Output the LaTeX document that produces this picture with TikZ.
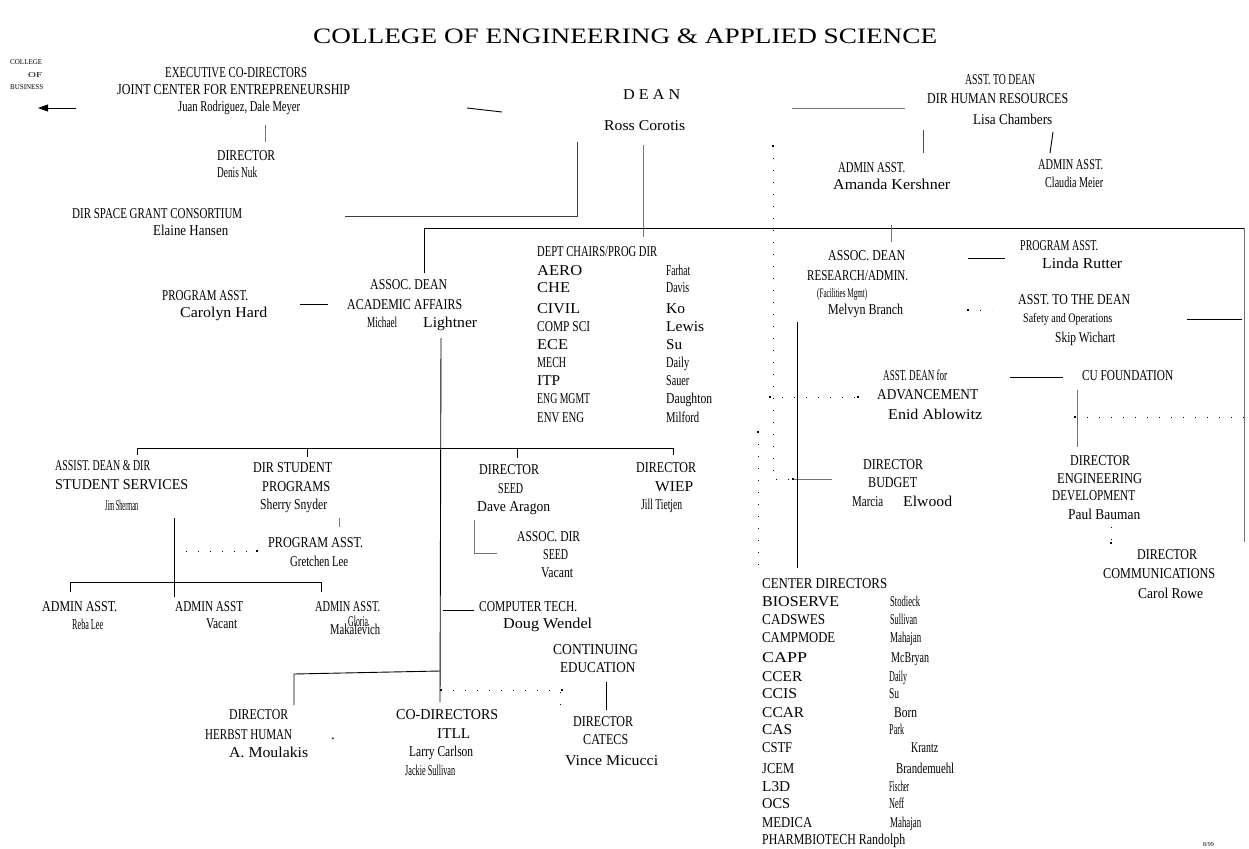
\documentclass[tikz,border=0pt]{standalone}
\usepackage{fontspec}
\setmainfont{Liberation Serif}
\usepackage{graphicx}
\usetikzlibrary{arrows.meta}
\newcommand{\sqz}[2]{\resizebox{#1pt}{\height}{#2}}
\begin{document}
\begin{tikzpicture}[x=1pt,y=-1pt,
 tx/.style={anchor=base west,inner sep=0pt,font=\fontsize{15}{17}\selectfont},
 sm/.style={tx,font=\fontsize{13}{15}\selectfont},
 tin/.style={tx,font=\fontsize{7.5}{8}\selectfont},
 ttl/.style={tx,font=\fontsize{22}{24}\selectfont},
 ln/.style={line width=0.9pt},
 gln/.style={line width=1pt,draw=black!55},
 dln/.style={line width=1pt,dash pattern=on 1.4pt off 10.6pt}]
\useasboundingbox[fill=white] (0,0) rectangle (1249,848);

% ---------- title ----------
\node[ttl] (title) at (313,44) {\sqz{624}{COLLEGE OF ENGINEERING \& APPLIED SCIENCE}};

% ---------- top left ----------
\node[tin] (cob1) at (10,65) {\sqz{32}{COLLEGE}};
\node[tin] (cob2) at (28,78) {\sqz{14}{OF}};
\node[tin] (cob3) at (10,90) {\sqz{33}{BUSINESS}};
\node[tx] (exec1) at (165,78) {\sqz{142}{EXECUTIVE CO-DIRECTORS}};
\node[tx] (exec2) at (117,95) {\sqz{233}{JOINT CENTER FOR ENTREPRENEURSHIP}};
\node[tx] (exec3) at (178,111) {\sqz{122}{Juan Rodriguez, Dale Meyer}};
\node[tx] (dir1) at (217,160) {\sqz{58}{DIRECTOR}};
\node[tx] (dir2) at (217,177) {\sqz{40}{Denis Nuk}};
\node[tx] (sp1) at (72,218) {\sqz{170}{DIR SPACE GRANT CONSORTIUM}};
\node[tx] (sp2) at (153,235) {\sqz{75}{Elaine Hansen}};

% ---------- dean ----------
\node[tx] (dean1) at (623,100) {\sqz{57}{D E A N}};
\node[tx] (dean2) at (604,131) {\sqz{81}{Ross Corotis}};

% ---------- human resources ----------
\node[tx] (hr1) at (965,85) {\sqz{70}{ASST. TO DEAN}};
\node[tx] (hr2) at (927,103) {\sqz{141}{DIR HUMAN RESOURCES}};
\node[tx] (hr3) at (973,124) {\sqz{79}{Lisa Chambers}};
\node[tx] (hr4) at (838,172) {\sqz{67}{ADMIN ASST.}};
\node[tx] (hr5) at (833,189) {\sqz{117}{Amanda Kershner}};
\node[tx] (hr6) at (1038,169) {\sqz{65}{ADMIN ASST.}};
\node[tx] (hr7) at (1045,187) {\sqz{58}{Claudia Meier}};

% ---------- research / admin ----------
\node[tx] (rs1) at (828,260) {\sqz{77}{ASSOC. DEAN}};
\node[tx] (rs2) at (807,280) {\sqz{101}{RESEARCH/ADMIN.}};
\node[sm] (rs3) at (817,297) {\sqz{50}{(Facilities Mgmt)}};
\node[tx] (rs4) at (828,314) {\sqz{75}{Melvyn Branch}};
\node[tx] (pa1) at (1020,250) {\sqz{78}{PROGRAM ASST.}};
\node[tx] (pa2) at (1042,268) {\sqz{80}{Linda Rutter}};
\node[tx] (st1) at (1018,304) {\sqz{112}{ASST. TO THE DEAN}};
\node[sm] (st2) at (1023,322) {\sqz{89}{Safety and Operations}};
\node[tx] (st3) at (1055,342) {\sqz{60}{Skip Wichart}};
\node[tx] (ad1) at (883,380) {\sqz{64}{ASST. DEAN for}};
\node[tx] (ad2) at (877,399) {\sqz{101}{ADVANCEMENT}};
\node[tx] (ad3) at (888,419) {\sqz{94}{Enid Ablowitz}};
\node[tx] (cu) at (1082,380) {\sqz{91}{CU FOUNDATION}};
\node[tx] (ed1) at (1070,465) {\sqz{60}{DIRECTOR}};
\node[tx] (ed2) at (1057,483) {\sqz{85}{ENGINEERING}};
\node[tx] (ed3) at (1052,500) {\sqz{83}{DEVELOPMENT}};
\node[tx] (ed4) at (1068,519) {\sqz{72}{Paul Bauman}};
\node[tx] (cm1) at (1137,559) {\sqz{60}{DIRECTOR}};
\node[tx] (cm2) at (1103,578) {\sqz{112}{COMMUNICATIONS}};
\node[tx] (cm3) at (1138,598) {\sqz{65}{Carol Rowe}};
\node[tx] (bd1) at (863,469) {\sqz{60}{DIRECTOR}};
\node[tx] (bd2) at (868,487) {\sqz{49}{BUDGET}};
\node[tx] (bd3) at (852,506) {\sqz{31}{Marcia}};
\node[tx] (bd4) at (903,506) {\sqz{49}{Elwood}};

% ---------- department chairs ----------
\node[tx] (dc0) at (537,256) {\sqz{120}{DEPT CHAIRS/PROG DIR}};
\node[tx] (dl1) at (537,275) {\sqz{45}{AERO}};
\node[tx] (dl2) at (537,292) {\sqz{33}{CHE}};
\node[tx] (dl3) at (537,313) {\sqz{43}{CIVIL}};
\node[tx] (dl4) at (537,331) {\sqz{53}{COMP SCI}};
\node[tx] (dl5) at (537,349) {\sqz{31}{ECE}};
\node[tx] (dl6) at (537,367) {\sqz{29}{MECH}};
\node[tx] (dl7) at (537,385) {\sqz{23}{ITP}};
\node[tx] (dl8) at (537,403) {\sqz{53}{ENG MGMT}};
\node[tx] (dl9) at (537,422) {\sqz{47}{ENV ENG}};
\node[tx] (dr1) at (666,275) {\sqz{24}{Farhat}};
\node[tx] (dr2) at (666,292) {\sqz{23}{Davis}};
\node[tx] (dr3) at (666,313) {\sqz{19}{Ko}};
\node[tx] (dr4) at (666,331) {\sqz{38}{Lewis}};
\node[tx] (dr5) at (666,349) {\sqz{16}{Su}};
\node[tx] (dr6) at (666,367) {\sqz{23}{Daily}};
\node[tx] (dr7) at (666,385) {\sqz{23}{Sauer}};
\node[tx] (dr8) at (666,403) {\sqz{46}{Daughton}};
\node[tx] (dr9) at (666,422) {\sqz{33}{Milford}};

% ---------- academic affairs ----------
\node[tx] (aa1) at (370,289) {\sqz{77}{ASSOC. DEAN}};
\node[tx] (aa2) at (347,309) {\sqz{115}{ACADEMIC AFFAIRS}};
\node[tx] (aa3) at (367,327) {\sqz{30}{Michael}};
\node[tx] (aa4) at (423,327) {\sqz{54}{Lightner}};
\node[tx] (pc1) at (162,300) {\sqz{86}{PROGRAM ASST.}};
\node[tx] (pc2) at (180,317) {\sqz{87}{Carolyn Hard}};

\node[tx] (ss1) at (55,470) {\sqz{95}{ASSIST. DEAN \& DIR}};
\node[tx] (ss2) at (55,489) {\sqz{133}{STUDENT SERVICES}};
\node[tx] (ss3) at (105,510) {\sqz{33}{Jim Sherman}};
\node[tx] (sr1) at (253,472) {\sqz{79}{DIR STUDENT}};
\node[tx] (sr2) at (262,491) {\sqz{68}{PROGRAMS}};
\node[tx] (sr3) at (260,509) {\sqz{67}{Sherry Snyder}};
\node[tx] (pg1) at (268,547) {\sqz{95}{PROGRAM ASST.}};
\node[tx] (pg2) at (290,566) {\sqz{58}{Gretchen Lee}};
\node[tx] (ah1) at (42,611) {\sqz{75}{ADMIN ASST.}};
\node[tx] (ah2) at (175,611) {\sqz{68}{ADMIN ASST}};
\node[tx] (ah3) at (315,611) {\sqz{65}{ADMIN ASST.}};
\node[tx] (an1) at (72,629) {\sqz{31}{Reba Lee}};
\node[tx] (an2) at (206,628) {\sqz{31}{Vacant}};
\node[tx] (an3) at (348,626) {\sqz{20}{Gloria}};
\node[tx] (an4) at (330,634) {\sqz{50}{Makalevich}};

\node[tx] (sd1) at (479,474) {\sqz{60}{DIRECTOR}};
\node[tx] (sd2) at (498,493) {\sqz{25}{SEED}};
\node[tx] (sd3) at (477,511) {\sqz{73}{Dave Aragon}};
\node[tx] (as1) at (517,541) {\sqz{63}{ASSOC. DIR}};
\node[tx] (as2) at (543,559) {\sqz{25}{SEED}};
\node[tx] (as3) at (541,577) {\sqz{32}{Vacant}};
\node[tx] (wp1) at (636,472) {\sqz{60}{DIRECTOR}};
\node[tx] (wp2) at (655,491) {\sqz{38}{WIEP}};
\node[tx] (wp3) at (641,509) {\sqz{41}{Jill Tietjen}};
\node[tx] (ct1) at (479,611) {\sqz{98}{COMPUTER TECH.}};
\node[tx] (ct2) at (503,628) {\sqz{89}{Doug Wendel}};

\node[tx] (hb1) at (229,719) {\sqz{59}{DIRECTOR}};
\node[tx] (hb2) at (205,739) {\sqz{87}{HERBST HUMAN}};
\node[tx] (hbd) at (331,739) {.};
\node[tx] (hb3) at (229,757) {\sqz{79}{A. Moulakis}};
\node[tx] (it1) at (396,719) {\sqz{102}{CO-DIRECTORS}};
\node[tx] (it2) at (437,738) {\sqz{33}{ITLL}};
\node[tx] (it3) at (409,756) {\sqz{64}{Larry Carlson}};
\node[tx] (it4) at (405,775) {\sqz{50}{Jackie Sullivan}};
\node[tx] (ce1) at (553,654) {\sqz{85}{CONTINUING}};
\node[tx] (ce2) at (560,672) {\sqz{75}{EDUCATION}};
\node[tx] (ca1) at (573,726) {\sqz{60}{DIRECTOR}};
\node[tx] (ca2) at (583,744) {\sqz{45}{CATECS}};
\node[tx] (ca3) at (565,765) {\sqz{93}{Vince Micucci}};

% ---------- center directors ----------
\node[tx] (cd0) at (762,588) {\sqz{125}{CENTER DIRECTORS}};
\node[tx] (cl1) at (762,606) {\sqz{77}{BIOSERVE}};
\node[tx] (cl2) at (762,624) {\sqz{63}{CADSWES}};
\node[tx] (cl3) at (762,642) {\sqz{73}{CAMPMODE}};
\node[tx] (cl4) at (762,662) {\sqz{45}{CAPP}};
\node[tx] (cl5) at (762,681) {\sqz{40}{CCER}};
\node[tx] (cl6) at (762,698) {\sqz{35}{CCIS}};
\node[tx] (cl7) at (762,717) {\sqz{42}{CCAR}};
\node[tx] (cl8) at (762,734) {\sqz{30}{CAS}};
\node[tx] (cl9) at (762,752) {\sqz{30}{CSTF}};
\node[tx] (cl10) at (762,773) {\sqz{32}{JCEM}};
\node[tx] (cl11) at (762,791) {\sqz{28}{L3D}};
\node[tx] (cl12) at (762,808) {\sqz{28}{OCS}};
\node[tx] (cl13) at (762,827) {\sqz{50}{MEDICA}};
\node[tx] (cl14) at (762,844) {\sqz{143}{PHARMBIOTECH Randolph}};
\node[tx] (cr1) at (890,606) {\sqz{30}{Stodieck}};
\node[tx] (cr2) at (890,624) {\sqz{27}{Sullivan}};
\node[tx] (cr3) at (890,642) {\sqz{31}{Mahajan}};
\node[tx] (cr4) at (891,662) {\sqz{38}{McBryan}};
\node[tx] (cr5) at (889,681) {\sqz{18}{Daily}};
\node[tx] (cr6) at (889,698) {\sqz{10}{Su}};
\node[tx] (cr7) at (894,717) {\sqz{23}{Born}};
\node[tx] (cr8) at (889,734) {\sqz{15}{Park}};
\node[tx] (cr9) at (911,752) {\sqz{27}{Krantz}};
\node[tx] (cr10) at (896,773) {\sqz{58}{Brandemuehl}};
\node[tx] (cr11) at (889,791) {\sqz{20}{Fischer}};
\node[tx] (cr12) at (889,808) {\sqz{15}{Neff}};
\node[tx] (cr13) at (890,827) {\sqz{31}{Mahajan}};
\node[tx,font=\fontsize{6}{7}\selectfont] (date) at (1203,846) {8/99};

% ---------- connector coordinates ----------
\coordinate (a1) at (76,108);   \coordinate (a2) at (38,108);
\coordinate (b1) at (265,125);  \coordinate (b2) at (265,142);
\coordinate (c1) at (467,108);  \coordinate (c2) at (502,112);
\coordinate (d1) at (345,216);  \coordinate (d2) at (577,216);  \coordinate (d3) at (577,142);
\coordinate (e1) at (643,145);  \coordinate (e2) at (643,237);
\coordinate (f1) at (424,273);  \coordinate (f2) at (424,228);  \coordinate (f3) at (1244,228);  \coordinate (f4) at (1244,542);
\coordinate (g1) at (792,109);  \coordinate (g2) at (905,109);
\coordinate (h1) at (923,130);  \coordinate (h2) at (923,153);
\coordinate (i1) at (1053,132); \coordinate (i2) at (1050,153);
\coordinate (j1) at (773,146);  \coordinate (j2) at (773,479);  \coordinate (j3) at (793,479);  \coordinate (j4) at (832,479);
\coordinate (k1) at (891,225);  \coordinate (k2) at (891,242);
\coordinate (l1) at (797,322);  \coordinate (l2) at (797,568);
\coordinate (m1) at (968,258);  \coordinate (m2) at (1005,258);
\coordinate (n1) at (968,310);  \coordinate (n2) at (992,310);
\coordinate (o1) at (1187,319); \coordinate (o2) at (1242,319);
\coordinate (p1) at (1010,377); \coordinate (p2) at (1063,377);
\coordinate (q1) at (770,397);  \coordinate (q2) at (858,397);
\coordinate (r1) at (1077,390); \coordinate (r2) at (1077,447);
\coordinate (s1) at (1075,417); \coordinate (s2) at (1244,417);
\coordinate (t1) at (1111,527); \coordinate (t2) at (1111,543);
\coordinate (u1) at (758,432);  \coordinate (u2) at (758,568);
\coordinate (v1) at (300,304);  \coordinate (v2) at (328,304);
\coordinate (w1) at (441,338);  \coordinate (w2) at (440,702);
\coordinate (x1) at (137,455);  \coordinate (x2) at (137,448);  \coordinate (x3) at (673,448);  \coordinate (x4) at (673,455);
\coordinate (x5) at (307,448);  \coordinate (x6) at (307,457);  \coordinate (x7) at (517,448);  \coordinate (x8) at (517,458);
\coordinate (y1) at (339,518);  \coordinate (y2) at (339,527);
\coordinate (z1) at (174,551);  \coordinate (z2) at (257,551);
\coordinate (z3) at (174,518);  \coordinate (z4) at (174,597);
\coordinate (aa) at (70,592);   \coordinate (ab) at (70,582);   \coordinate (ac) at (321,582);  \coordinate (ad) at (321,592);
\coordinate (ba) at (474,520);  \coordinate (bb) at (474,553);  \coordinate (bc) at (497,553);
\coordinate (ca) at (443,610);  \coordinate (cb) at (474,610);
\coordinate (da) at (294,705);  \coordinate (db) at (294,674);  \coordinate (dc) at (440,671);
\coordinate (ea) at (441,690);  \coordinate (eb) at (562,690);  \coordinate (ec) at (560,692);  \coordinate (ed) at (560,710);
\coordinate (fa) at (606,682);  \coordinate (fb) at (606,710);

% ---------- connectors ----------
\draw[ln,-{Triangle[length=10pt,width=7pt]}] (a1) -- (a2);
\draw[gln] (b1) -- (b2);
\draw[ln] (c1) -- (c2);
\draw[ln,draw=black!75] (d1) -- (d2) -- (d3);
\draw[gln] (e1) -- (e2);
\draw[ln] (f1) -- (f2) -- (f3);
\draw[gln] (f3) -- (f4);
\draw[gln] (g1) -- (g2);
\draw[ln,draw=black!70] (h1) -- (h2);
\draw[ln] (i1) -- (i2);
\draw[dln] (j1) -- (j2) -- (j3);
\draw[gln] (j3) -- (j4);
\draw[gln] (k1) -- (k2);
\draw[ln] (l1) -- (l2);
\draw[ln] (m1) -- (m2);
\draw[dln] (n1) -- (n2);
\draw[ln] (o1) -- (o2);
\draw[ln] (p1) -- (p2);
\draw[dln] (q1) -- (q2);
\draw[gln] (r1) -- (r2);
\draw[dln] (s1) -- (s2);
\draw[dln] (t1) -- (t2);
\draw[dln] (u1) -- (u2);
\draw[ln] (v1) -- (v2);
\draw[ln] (w1) -- (w2);
\draw[ln] (x1) -- (x2) -- (x3) -- (x4);
\draw[ln] (x5) -- (x6);
\draw[ln] (x7) -- (x8);
\draw[gln] (y1) -- (y2);
\draw[dln] (z1) -- (z2);
\draw[ln] (z3) -- (z4);
\draw[ln] (aa) -- (ab) -- (ac) -- (ad);
\draw[gln] (ba) -- (bb) -- (bc);
\draw[ln] (ca) -- (cb);
\draw[ln] (da) -- (db) -- (dc);
\draw[dln] (ea) -- (eb);
\draw[dln] (ec) -- (ed);
\draw[ln] (fa) -- (fb);

% ---------- square dots at dotted-line ends ----------
\foreach \p in {j1,j3,n1,q1,q2,s1,t2,u1,z2,ea,eb}
  \fill (\p) ++(-1.4,-1.4) rectangle ++(2.8,2.8);
\end{tikzpicture}
\end{document}
